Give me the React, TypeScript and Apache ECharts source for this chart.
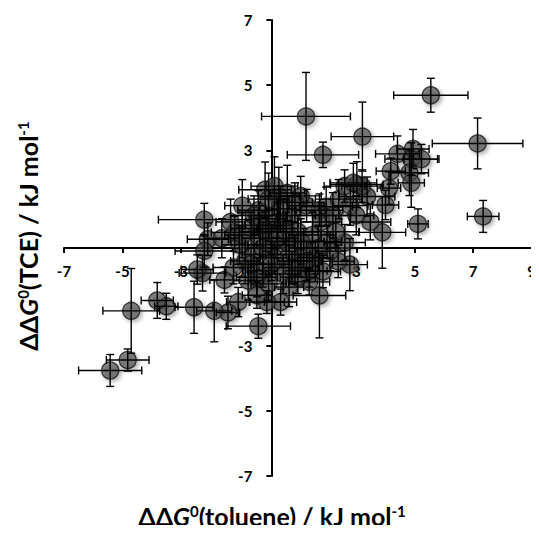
import React, { useEffect, useRef } from "react";
import * as echarts from "echarts";

// ΔΔG0(toluene) values (x)
const toluene = [
  5.55, 1.28, 3.21, 7.15, 1.86, 7.34, 5.11, 4.41, 4.94, 4.88,
  5.23, 4.18, 4.82, 4.88, 4.12, 4.0, 3.02, 3.89, 3.48, 3.37,
  2.61, 2.78, 2.38, 1.74, 1.86, 1.39, 1.74, 0.41, -0.06, -0.35,
  -0.4, -1.04, -1.39, -1.51, -2.26, -2.44, -1.86, -2.55, -3.5, -3.81,
  -4.7, -4.82, -5.42, -2.2, -2.08, -2.2, -1.16, -0.35, -0.12, 0.35,
  0.64, 1.97, -1.0, -0.8, -0.6, -0.5, -0.3, -0.2, 0.0, 0.1,
  0.2, 0.3, 0.5, 0.6, 0.8, 0.9, 1.0, 1.2, 1.3, 1.5,
  1.6, 1.8, 2.0, 2.2, 2.4, 2.6, 2.8, -1.2, -1.3, -0.9,
  -0.7, 0.0, 0.4, 1.1, 2.3, 3.0, 0.7, -0.1, 1.4, -1.6,
  0.2, 1.0, 2.1, 3.2, 2.9, -0.4, -0.9, -0.5, -0.2, 0.1,
  0.3, 0.5, 0.7, 0.9, 1.1, 1.3, 0.0, -0.6, 0.6, 1.7,
  -0.3, 0.8,
];
// ΔΔG0(TCE) values (y)
const tce = [
  4.69, 4.04, 3.42, 3.21, 2.86, 0.97, 0.74, 2.89, 3.04, 2.73,
  2.73, 2.36, 2.31, 2.0, 1.84, 1.32, 1.95, 0.48, 0.8, 1.58,
  0.17, -0.51, -0.41, -1.46, -0.72, -1.04, 1.16, -1.66, -1.66, -2.4,
  -1.45, -1.66, -1.98, -0.98, -0.77, -0.66, -1.93, -1.82, -1.79, -1.61,
  -1.93, -3.44, -3.76, 0.87, 0.27, -0.09, 0.48, 1.16, 1.79, 1.58,
  1.69, 1.27, 0.1, -0.4, 0.6, -0.2, 0.3, -0.7, 0.9, 0.1,
  -0.3, 0.6, -0.8, 0.2, 1.0, -0.4, 0.5, 0.0, 1.3, 0.4,
  -0.3, 0.8, 0.2, 1.0, 1.5, 1.9, 1.3, -0.6, 0.8, 1.3,
  -1.0, -1.1, 1.2, 1.6, 0.5, 1.0, -1.2, 0.5, -0.7, 0.3,
  1.9, -0.9, -0.1, 1.9, 2.0, -0.9, 0.4, 1.0, 0.0, -0.5,
  0.3, 0.8, -0.2, 1.4, 0.2, -0.4, 1.5, -0.5, 0.5, 0.0,
  0.7, -0.6,
];
// error in x
const tolueneErr = [
  1.27, 1.52, 1.07, 1.55, 1.22, 0.54, 0.35, 0.75, 0.55, 0.9,
  0.6, 0.5, 0.65, 0.45, 0.4, 0.45, 0.9, 0.8, 0.7, 0.95,
  0.7, 0.6, 0.55, 0.9, 0.6, 0.7, 0.8, 0.55, 0.6, 1.1,
  0.5, 0.4, 0.4, 0.5, 0.8, 0.55, 0.6, 0.65, 0.4, 0.55,
  0.97, 0.73, 1.08, 1.57, 0.7, 1.0, 0.8, 0.7, 0.9, 0.7,
  0.6, 0.9, 0.6, 0.5, 0.7, 0.4, 0.6, 0.5, 0.6, 0.8,
  0.5, 0.7, 0.6, 0.5, 0.8, 0.6, 0.7, 0.5, 0.6, 0.8,
  0.6, 0.7, 0.5, 0.6, 0.8, 0.7, 0.6, 0.7, 0.5, 0.6,
  0.5, 0.6, 0.5, 0.7, 0.8, 0.6, 0.5, 0.9, 0.6, 0.6,
  0.8, 0.6, 0.5, 0.7, 0.8, 0.7, 0.6, 0.8, 0.5, 0.7,
  0.6, 0.5, 0.7, 0.6, 0.8, 0.5, 0.7, 0.6, 0.9, 0.6,
  0.5, 0.7,
];
// error in y
const tceErr = [
  0.52, 1.35, 1.06, 0.78, 0.39, 0.49, 0.46, 0.55, 0.6, 0.5,
  0.45, 0.4, 0.7, 0.75, 0.5, 0.45, 0.7, 1.1, 0.55, 0.6,
  0.55, 0.8, 0.5, 1.3, 0.5, 0.4, 0.5, 0.4, 0.35, 0.37,
  0.4, 0.45, 0.5, 0.4, 0.55, 0.45, 0.95, 0.8, 0.4, 0.55,
  1.3, 0.34, 0.49, 0.5, 0.5, 0.5, 0.5, 0.6, 0.85, 0.9,
  0.85, 0.6, 0.6, 0.7, 0.5, 0.8, 0.6, 0.5, 0.7, 0.6,
  0.5, 0.8, 0.6, 0.5, 0.6, 0.7, 0.5, 0.6, 0.5, 0.7,
  0.5, 0.6, 0.5, 0.7, 0.6, 0.5, 0.6, 0.5, 0.7, 0.8,
  0.6, 0.5, 0.7, 0.6, 0.5, 0.6, 0.6, 0.6, 0.5, 0.6,
  0.9, 0.5, 0.6, 0.5, 0.6, 0.6, 0.7, 0.6, 0.8, 0.5,
  0.6, 0.7, 0.5, 0.6, 0.7, 0.6, 0.8, 0.5, 0.6, 0.7,
  0.6, 0.5,
];

const xTicks = [-7, -5, -3, -1, 1, 3, 5, 7, 9];
const yTicks = [-7, -5, -3, -1, 1, 3, 5, 7];
const xTickLabels = [-7, -5, -3, -1, 1, 3, 5, 7, 9];
const yTickLabels = [-7, -5, -3, 1, 3, 5, 7];

const FONT = "Lato, 'DejaVu Sans', sans-serif";

const GRID_LEFT = 64;
const GRID_RIGHT = 1;
const GRID_TOP = 20;
const GRID_BOTTOM = 57;
const W = 539;
const H = 533;

export default function App() {
  const ref = useRef<HTMLDivElement>(null);
  useEffect(() => {
    if (!ref.current) return;
    const chart = echarts.init(ref.current, undefined, { renderer: "svg" });
    const data = toluene.map((x, i) => [x, tce[i], tolueneErr[i], tceErr[i]]);
    const cap = 4;
    const xMin = -7, xMax = 9, yMin = -7, yMax = 7;
    const gw = W - GRID_LEFT - GRID_RIGHT;
    const gh = H - GRID_TOP - GRID_BOTTOM;
    // shift axes so they cross at the origin (labels and ticks move with them)
    const yAxisOffset = -((0 - xMin) / (xMax - xMin)) * gw;
    const xAxisOffset = -((0 - yMin) / (yMax - yMin)) * gh;
    const titleRich = {
      n: { fontSize: 25, fontWeight: "bold", fontFamily: FONT, fill: "#000" },
      i: { fontSize: 25, fontWeight: "bold", fontStyle: "italic", fontFamily: FONT, fill: "#000" },
      s: { fontSize: 15, fontWeight: "bold", fontFamily: FONT, verticalAlign: "top", fill: "#000" },
    };
    const option: any = {
      animation: false,
      grid: { left: GRID_LEFT, right: GRID_RIGHT, top: GRID_TOP, bottom: GRID_BOTTOM },
      xAxis: {
        type: "value",
        min: xMin,
        max: xMax,
        position: "bottom",
        offset: xAxisOffset,
        splitLine: { show: false },
        axisLine: { onZero: false, lineStyle: { color: "#000", width: 2 } },
        axisTick: { show: true, length: 5, customValues: xTicks, lineStyle: { color: "#000", width: 2 } },
        axisLabel: {
          customValues: xTickLabels,
          margin: 15,
          fontFamily: FONT,
          fontWeight: "bold",
          fontSize: 15,
          color: "#000",
        },
      },
      yAxis: {
        type: "value",
        min: yMin,
        max: yMax,
        position: "left",
        offset: yAxisOffset,
        splitLine: { show: false },
        axisLine: { onZero: false, lineStyle: { color: "#000", width: 2 } },
        axisTick: { show: true, length: 5, customValues: yTicks, lineStyle: { color: "#000", width: 2 } },
        axisLabel: {
          customValues: yTickLabels,
          margin: 19,
          fontFamily: FONT,
          fontWeight: "bold",
          fontSize: 15,
          color: "#000",
        },
      },
      graphic: [
        {
          type: "text",
          x: 272,
          y: 516,
          style: {
            text: "{n|ΔΔ}{i|G}{s|0}{n|(toluene) / kJ mol}{s|-1}",
            align: "center",
            verticalAlign: "middle",
            fill: "#000",
            rich: titleRich,
          },
        },
        {
          type: "text",
          x: 28,
          y: 236,
          rotation: Math.PI / 2,
          style: {
            text: "{n|ΔΔ}{i|G}{s|0}{n|(TCE) / kJ mol}{s|-1}",
            align: "center",
            verticalAlign: "middle",
            fill: "#000",
            rich: titleRich,
          },
        },
      ],
      series: [
        {
          type: "scatter",
          data: data.map((d) => [d[0], d[1]]),
          symbolSize: 17,
          z: 2,
          itemStyle: {
            color: "rgba(72,72,72,0.8)",
            borderColor: "#151515",
            borderWidth: 1.3,
            shadowBlur: 4,
            shadowOffsetX: 2,
            shadowOffsetY: 2,
            shadowColor: "rgba(0,0,0,0.45)",
          },
        },
        {
          type: "custom",
          z: 3,
          data,
          encode: { x: 0, y: 1 },
          renderItem: (params: any, api: any) => {
            const x = api.value(0);
            const y = api.value(1);
            const ex = api.value(2);
            const ey = api.value(3);
            const l = api.coord([x - ex, y]);
            const r = api.coord([x + ex, y]);
            const t = api.coord([x, y + ey]);
            const b = api.coord([x, y - ey]);
            const style = { stroke: "#000", lineWidth: 1.4 };
            const line = (x1: number, y1: number, x2: number, y2: number) => ({
              type: "line",
              shape: { x1, y1, x2, y2 },
              style,
            });
            return {
              type: "group",
              children: [
                line(l[0], l[1], r[0], r[1]),
                line(l[0], l[1] - cap, l[0], l[1] + cap),
                line(r[0], r[1] - cap, r[0], r[1] + cap),
                line(t[0], t[1], b[0], b[1]),
                line(t[0] - cap, t[1], t[0] + cap, t[1]),
                line(b[0] - cap, b[1], b[0] + cap, b[1]),
              ],
            };
          },
        },
      ],
    };
    chart.setOption(option);
    return () => chart.dispose();
  }, []);
  return <div ref={ref} style={{ width: W, height: H, margin: -8 }} />;
}
